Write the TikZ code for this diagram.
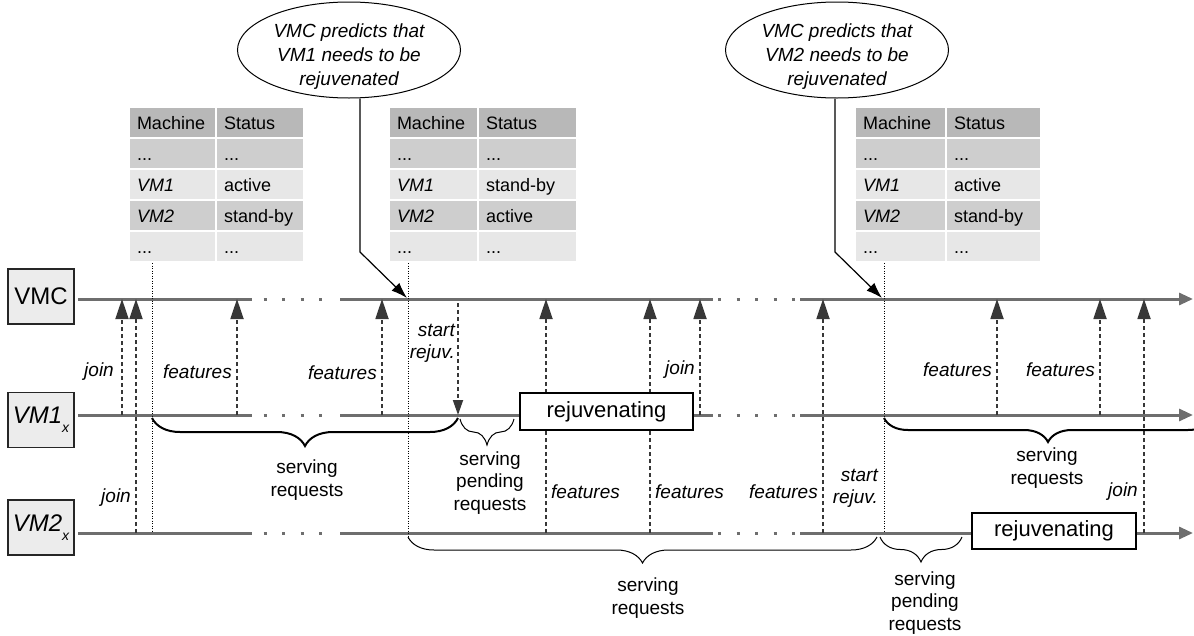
\documentclass[tikz,border=0pt]{standalone}
\usepackage{fontspec}
\setmainfont{Liberation Sans}
\usetikzlibrary{positioning}
\usetikzlibrary{arrows.meta}
\usetikzlibrary{shapes.geometric}
\usetikzlibrary{decorations.pathreplacing}

\definecolor{tlgray}{RGB}{110,110,110}
\definecolor{msggray}{RGB}{55,55,55}
\definecolor{hdrgray}{RGB}{184,184,184}
\definecolor{midgray}{RGB}{206,206,206}
\definecolor{rowgray}{RGB}{231,231,231}
\definecolor{lanefill}{RGB}{236,236,236}

\tikzset{
  tl/.style={tlgray, line width=3pt},
  tldots/.style={tlgray, line width=3pt, dash pattern=on 3pt off 15.5pt},
  tlend/.style={tl, -{Triangle[length=14pt,width=12pt]}},
  msg/.style={msggray, line width=1.8pt, dash pattern=on 4pt off 3pt, -{Triangle[length=20pt,width=13pt]}},
  msgdown/.style={msg, -{Triangle[length=15pt,width=10pt]}},
  msglbl/.style={font=\fontsize{19}{22}\selectfont\itshape, inner sep=0pt, align=right},
  srvlbl/.style={font=\fontsize{19}{22.5}\selectfont, inner sep=0pt, align=center},
  lane/.style={draw=black!85, line width=1.5pt, fill=lanefill, minimum width=66pt, minimum height=55pt, inner sep=0pt, font=\fontsize{24}{24}\selectfont},
  rejuvbox/.style={draw=black, line width=2pt, fill=white, inner sep=0pt, font=\fontsize{22}{22}\selectfont},
  thinline/.style={black, line width=0.8pt, dash pattern=on 1pt off 1.5pt},
  bracethick/.style={decorate, decoration={brace, mirror, amplitude=28pt}, line width=2pt},
  bracethin/.style={decorate, decoration={brace, mirror, amplitude=26pt}, line width=1pt},
  predict/.style={ellipse, draw=black, line width=1pt, inner sep=0pt, minimum width=223pt, minimum height=96pt},
  predtxt/.style={font=\fontsize{19}{24}\selectfont\itshape, align=center, inner sep=0pt},
  callout/.style={black, line width=1.2pt, -{Latex[length=16pt,width=11pt]}},
  cell/.style={draw=white, line width=2pt, outer sep=0pt, minimum height=31pt, inner xsep=8pt, text height=14pt, text depth=0pt, align=left, font=\fontsize{18}{20}\selectfont}
}

% table: name, left x, text width col 1, text width col 2, VM1 status, VM2 status
\newcommand{\stattable}[6]{%
  \node[cell, fill=hdrgray, text width=#3pt, anchor=north west] (#1-a0) at (#2,107) {Machine};
  \node[cell, fill=hdrgray, text width=#4pt, right=0pt of #1-a0] (#1-b0) {Status};
  \node[cell, fill=midgray, text width=#3pt, below=0pt of #1-a0] (#1-a1) {...};
  \node[cell, fill=midgray, text width=#4pt, right=0pt of #1-a1] (#1-b1) {...};
  \node[cell, fill=rowgray, text width=#3pt, below=0pt of #1-a1] (#1-a2) {\itshape VM1};
  \node[cell, fill=rowgray, text width=#4pt, right=0pt of #1-a2] (#1-b2) {#5};
  \node[cell, fill=midgray, text width=#3pt, below=0pt of #1-a2] (#1-a3) {\itshape VM2};
  \node[cell, fill=midgray, text width=#4pt, right=0pt of #1-a3] (#1-b3) {#6};
  \node[cell, fill=rowgray, text width=#3pt, below=0pt of #1-a3] (#1-a4) {...};
  \node[cell, fill=rowgray, text width=#4pt, right=0pt of #1-a4] (#1-b4) {...};
}

\begin{document}
\begin{tikzpicture}[x=1pt, y=-1pt]
\useasboundingbox (0,0) rectangle (1194,635);

% lanes
\node[lane] (vmc) at (41,296.5) {VMC};
\node[lane] (vm1) at (41,420) {\itshape VM1\raisebox{-9pt}{\fontsize{14}{14}\selectfont x}};
\node[lane] (vm2) at (41,527.5) {\itshape VM2\raisebox{-9pt}{\fontsize{14}{14}\selectfont x}};

% time lines
\foreach \y in {299,415,533} {
  \draw[tl] (78,\y) -- (252,\y);
  \draw[tldots] (263.5,\y) -- (325,\y);
  \draw[tl] (340,\y) -- (713,\y);
  \draw[tldots] (718,\y) -- (797,\y);
  \draw[tlend] (800,\y) -- (1193,\y);
}

% switch instants
\draw[thinline] (152,263) -- (152,533);
\draw[thinline] (408,263) -- (408,540);
\draw[thinline] (884,263) -- (884,533);

% messages to the VMC
\foreach \x in {122,237,382,700,997,1100}
  \draw[msg] (\x,415) -- (\x,299);
\foreach \x in {136,546,650,823,1144}
  \draw[msg] (\x,533) -- (\x,299);
\draw[msgdown] (458,303) -- (458,415);

\node[msglbl, anchor=east] (ljoin1) at (114,372) {join};
\node[msglbl, anchor=east] (lfeat1) at (232,372) {features};
\node[msglbl, anchor=east] (lfeat2) at (377,373) {features};
\node[msglbl, anchor=east] (lstart1) at (455,343) {start\\rejuv.};
\node[msglbl, anchor=west] (lfeat3) at (551,492) {features};
\node[msglbl, anchor=west] (lfeat4) at (655,492) {features};
\node[msglbl, anchor=east] (ljoin2) at (695,370) {join};
\node[msglbl, anchor=east] (ljoin3) at (131,498) {join};
\node[msglbl, anchor=east] (lfeat5) at (818,492) {features};
\node[msglbl, anchor=east] (lstart2) at (878,488) {start\\rejuv.};
\node[msglbl, anchor=east] (lfeat6) at (992,370) {features};
\node[msglbl, anchor=east] (lfeat7) at (1095,370) {features};
\node[msglbl, anchor=east] (ljoin4) at (1138,492) {join};

% rejuvenation
\node[rejuvbox, minimum width=173pt, minimum height=37pt] (rej1) at (606.5,411.5) {rejuvenating};
\node[rejuvbox, minimum width=164pt, minimum height=36pt] (rej2) at (1054,531) {rejuvenating};

% braces
\draw[bracethick] (152,418) -- (458,418);
\draw[bracethin] (460,419) -- (514,419);
\draw[bracethin] (408,537) -- (877,537);
\draw[bracethick, decoration={amplitude=24pt}] (884,418) -- (1212,418);
\draw[bracethin, decoration={amplitude=25pt}] (880,537) -- (962,537);

\node[srvlbl] (srv1) at (307,480) {serving\\requests};
\node[srvlbl] (srv2) at (490,483) {serving\\pending\\requests};
\node[srvlbl] (srv3) at (648,598) {serving\\requests};
\node[srvlbl] (srv4) at (1047,468) {serving\\requests};
\node[srvlbl] (srv5) at (925,603) {serving\\pending\\requests};

% status tables
\stattable{t1}{129}{71}{72}{active}{stand-by}
\stattable{t2}{389}{73}{83}{stand-by}{active}
\stattable{t3}{855}{75}{79}{active}{stand-by}

% predictions
\node[predict] (pred1) at (349,50) {};
\node[predtxt] (pred1txt) at (349,57) {VMC predicts that\\VM1 needs to be\\rejuvenated};
\node[predict] (pred2) at (837,50) {};
\node[predtxt] (pred2txt) at (837,57) {VMC predicts that\\VM2 needs to be\\rejuvenated};
\coordinate (bend1) at (360,252);
\coordinate (hit1) at (407,298);
\coordinate (bend2) at (835,252);
\coordinate (hit2) at (882,298);
\draw[callout] (bend1 |- pred1.south) -- (bend1) -- (hit1);
\draw[callout] (bend2 |- pred2.south) -- (bend2) -- (hit2);
\end{tikzpicture}
\end{document}
